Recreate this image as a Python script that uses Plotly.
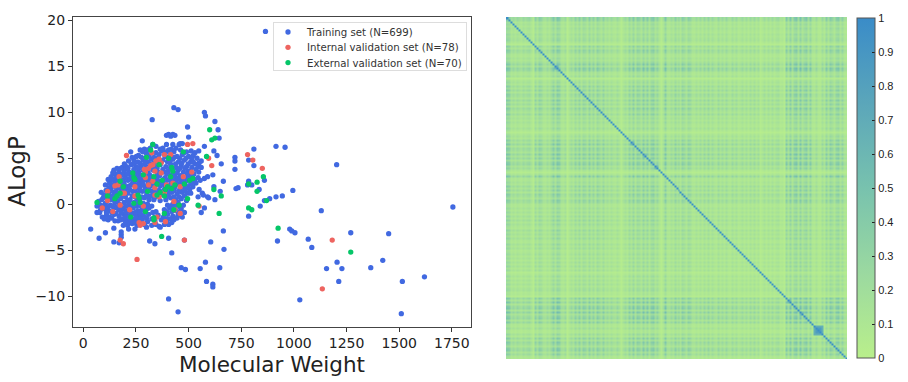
import plotly.graph_objects as go

# ---- Scatter panel: values (dense core is approximate) ----
TRAIN_OUTLIERS = [(865,18.8),(1755,-0.3),(1203,4.3),(915,6.3),(958,6.2),(810,6),(720,5.1),(720,4.7),(720,3.8),(785,4.8),(810,4.2),(860,2.6),(785,2.5),(780,2.1),(800,2.1),(725,1.7),(735,1.8),(835,1.6),(840,-0.2),(860,0.4),(885,0.6),(915,0.8),(945,0.9),(995,1.5),(785,-1.3),(1130,-0.7),(980,-2.7),(990,-2.9),(1005,-3.1),(922,-4),(1068,-3.8),(1085,-4.7),(1270,-3.1),(1450,-3.2),(1205,-6.3),(1155,-7),(1228,-7),(1213,-8.4),(1365,-6.9),(1422,-6.1),(1515,-8.4),(1620,-7.9),(1510,-11.9),(1028,-10.4),
(430,10.5),(450,10.3),(327,9.2),(575,10),(580,9.6),(625,9),(495,8.4),(640,8.1),(500,7.3),(645,7.2),(395,7.5),(405,7.6),(415,7.4),(425,7.6),(435,7.5),(280,6.9),(575,6.3),(460,6.6),(470,6.6),(620,5.8),(635,5.3),(655,4.4),(615,3.2),(590,3),(575,2.8),(665,2.5),(620,1.9),(650,1.4),(590,0.8),(595,0.7),(545,0.8),(625,0.5),(560,-0.9),(575,-0.4),(665,-2.9),(605,-4.1),(668,-4.9),(420,-5.3),(405,-3.7),(480,-3.9),(315,-4),(340,-4.3),(465,-6.9),(485,-7.1),(555,-7),(580,-6.3),(648,-6.9),(585,-8.4),(615,-8.7),(615,-9),(405,-10.3),(450,-11.7),(35,-2.7),(75,-3.7),(105,-3.1),(145,-4.1),(170,-4.2),(180,-3),(180,-3.3),(180,-3.6)]

TRAIN_CORE = [
(330,6.5),(290,6.0),(318,6.1),(378,6.1),(395,6.5),(425,6.5),(440,6.1),(455,6.5),(365,6.0),(345,6.3),
(225,5.7),(282,5.7),(300,5.5),(345,5.6),(372,5.8),(405,5.9),(430,5.7),(462,5.9),(490,5.7),(512,5.8),(530,5.6),(548,5.8),
(262,5.3),(276,5.1),(312,5.3),(335,5.1),(360,5.4),(388,5.2),(412,5.4),(445,5.2),(470,5.4),(500,5.2),(522,5.3),(540,5.0),(560,4.7),
(215,4.7),(240,4.8),(258,4.6),(285,4.8),(305,4.6),(322,4.9),(350,4.6),(378,4.8),(400,4.6),(425,4.9),(452,4.6),(480,4.8),(510,4.6),(530,4.4),(550,4.5),(185,4.0),
(205,4.1),(228,4.3),(250,4.1),(272,4.3),(298,4.1),(318,4.4),(342,4.1),(365,4.3),(392,4.1),(415,4.3),(440,4.0),(465,4.2),(490,4.1),(515,4.0),(535,3.8),(545,4.1),(560,4.0),
(145,3.7),(170,3.5),(195,3.7),(218,3.5),(240,3.8),(262,3.5),(285,3.7),(308,3.5),(332,3.7),(355,3.5),(378,3.8),(402,3.6),(428,3.4),(450,3.7),(475,3.5),(498,3.6),(525,3.3),(150,3.3),(140,3.4),
(155,2.9),(178,3.1),(200,2.9),(225,3.2),(248,3.0),(270,3.2),(292,3.0),(315,3.2),(340,2.9),(362,3.1),(388,2.9),(410,3.2),(435,3.0),(460,3.1),(482,2.9),(505,3.0),(528,2.7),(545,2.9),
(125,2.3),(148,2.5),(170,2.7),(192,2.4),(212,2.6),(235,2.4),(258,2.6),(280,2.4),(302,2.6),(325,2.4),(348,2.7),(372,2.4),(395,2.6),(420,2.4),(442,2.6),(465,2.4),(488,2.5),(510,2.2),(535,2.3),(555,2.6),
(108,1.5),(135,1.9),(158,1.7),(180,2.0),(205,1.8),(228,2.1),(250,1.8),(272,2.0),(295,1.8),(318,2.0),(340,1.7),(365,2.0),(388,1.8),(412,1.7),(435,1.9),(458,1.6),(480,1.8),(505,1.6),(550,1.6),(565,1.2),
(98,1.0),(120,1.2),(145,1.3),(168,1.1),(190,1.4),(212,1.2),(235,1.4),(258,1.2),(280,1.4),(302,1.2),(325,1.4),(350,1.2),(372,1.1),(398,1.2),(420,1.3),(445,1.1),(470,1.3),(495,1.2),(570,1.0),
(88,0.5),(110,0.7),(132,0.5),(155,0.8),(178,0.6),(200,0.8),(222,0.5),(245,0.8),(268,0.5),(290,0.7),(312,0.5),(335,0.5),(365,0.4),(392,0.5),(415,0.7),(440,0.5),(465,0.6),(490,0.4),
(65,-0.2),(82,-0.1),(105,0.1),(128,-0.1),(150,0.2),(172,0.0),(195,0.2),(218,0.0),(242,0.2),(262,-0.1),(285,0.1),(305,0.0),(325,-0.2),(400,-0.1),(425,0.0),(450,0.2),(475,-0.1),
(65,-0.9),(78,-0.9),(100,-0.5),(122,-0.7),(145,-0.4),(168,-0.6),(190,-0.5),(210,-0.7),(235,-0.4),(258,-0.7),(280,-0.6),(302,-0.5),(385,-0.6),(410,-0.4),(440,-0.7),(465,-0.5),(480,-0.9),
(90,-1.4),(110,-1.2),(125,-1.4),(148,-1.1),(170,-1.3),(192,-1.1),(215,-1.3),(240,-1.0),(262,-1.3),(285,-1.2),(310,-1.1),(355,-1.2),(400,-1.1),(425,-1.3),(450,-1.2),(470,-1.4),
(118,-1.7),(150,-1.8),(165,-1.8),(190,-1.6),(210,-1.8),(235,-1.6),(255,-1.6),(280,-1.7),(325,-1.6),(370,-1.7),(410,-1.6),(445,-1.5),
(190,-2.3),(210,-2.3),(232,-2.1),(255,-2.3),(290,-2.2),(325,-2.3),(345,-2.2),(365,-2.5),(385,-2.2),(405,-2.2),(145,-2.6),(215,-2.7),(360,-2.4),
]

TRAIN_CORE_2 = [
(270,5.9),(305,5.9),(392,5.7),(418,6.0),(478,5.6),(252,5.2),(295,5.0),(350,5.0),(402,5.1),(432,5.1),(458,5.0),(488,5.0),(515,5.0),(232,5.1),
(195,4.4),(268,4.5),(292,4.4),(336,4.5),(368,4.5),(412,4.6),(438,4.4),(468,4.5),(498,4.4),(522,4.6),(238,4.4),
(160,3.9),(178,3.9),(212,3.9),(238,3.4),(258,3.9),(278,3.9),(325,3.9),(350,3.9),(385,3.5),(412,3.9),(458,3.9),(482,3.9),(508,3.6),(548,3.5),
(132,3.0),(165,3.3),(188,3.3),(208,3.3),(255,3.4),(298,3.3),(322,3.0),(352,3.3),(398,3.3),(445,3.4),(470,3.0),(495,3.3),(518,3.1),
(118,2.7),(138,2.7),(158,2.4),(182,2.6),(222,2.8),(245,2.7),(268,2.8),(290,2.7),(312,2.8),(335,2.6),(360,2.5),(382,2.7),(408,2.7),(430,2.7),(452,2.8),(476,2.7),(498,2.7),(522,2.4),
(105,2.1),(122,1.8),(146,2.1),(168,2.2),(195,2.1),(218,2.0),(240,2.2),(262,2.2),(285,2.1),(308,2.2),(330,2.1),(355,2.2),(378,2.2),(402,2.1),(425,2.0),(448,2.2),(472,2.1),(495,1.9),(520,1.9),
(85,1.3),(112,1.0),(132,1.5),(155,1.3),(178,1.6),(198,1.6),(220,1.6),(245,1.5),(268,1.6),(292,1.5),(312,1.6),(335,1.2),(360,1.5),(382,1.5),(408,1.4),(432,1.5),(455,1.4),(482,1.5),(510,1.2),
(72,0.3),(95,0.7),(122,0.9),(140,0.9),(162,0.4),(188,0.9),(210,0.4),(232,0.9),(255,0.4),(278,0.8),(300,0.9),(322,0.9),(348,0.8),(405,0.9),(430,0.8),(455,0.8),(480,0.9),
(92,-0.2),(115,-0.3),(138,-0.2),(160,-0.3),(182,-0.3),(205,-0.2),(228,-0.3),(250,-0.2),(272,-0.2),(292,-0.3),(312,-0.4),(415,-0.2),(435,-0.2),(458,-0.3),
(82,-0.6),(110,-0.9),(135,-0.9),(155,-1.0),(180,-0.9),(202,-0.9),(225,-0.9),(248,-0.9),(270,-0.9),(330,-0.9),(345,-0.8),(395,-0.8),(420,-0.8),(452,-0.9),
(100,-1.6),(135,-1.5),(178,-1.7),(200,-1.4),(225,-1.5),(250,-1.4),(272,-1.6),(300,-1.5),(340,-1.4),(380,-1.4),(392,-1.6),(430,-1.7),
(200,-2.0),(225,-1.9),(245,-2.0),(270,-2.0),(305,-1.9),(340,-1.8),(395,-1.9),(420,-2.0),(245,-2.7),(300,-2.5),
]

INTERNAL = [(205,5.3),(495,6.5),(520,6.6),(610,4.2),(595,5),(780,5.4),(805,4.8),(850,3.9),(1182,-3.9),(1135,-9.2),(255,-6),(480,-3.9),(190,-4.3),(175,-3.9),(515,3.5),(550,-0.2),(460,-1),(430,0.3),(435,-0.6),(390,-1.9),(340,-2),(265,-2),(270,-2.3),(285,-2.1),(90,-0.4),(140,-0.8),(115,1.4),(115,0.4),(175,-0.1),(170,3),(165,2.1),(185,1.2),(195,1.2),(245,1.9),(220,-0.6),(285,-0.2),(290,3.8),(295,3.5),(310,3.9),(320,4.2),(330,4.3),(345,4.7),(360,4.9),(370,4.5),(385,5.4),(340,3.6),(370,3.4),(295,2.9),(330,2.5),(310,2.1),(340,1.8),(360,0.8),(395,2.1),(425,2.3),(460,1.9),(385,1.3),(340,1.0),(350,-1.4),(245,0.9),(415,5.4),(325,5.6),(150,2.0),(475,3.0)]

EXTERNAL = [(65,0.2),(115,0.9),(150,0.6),(160,0.9),(175,1.2),(190,1.9),(175,2.5),(235,3.4),(240,2.9),(245,2.7),(240,0.1),(260,1),(265,0.7),(270,0.2),(225,-1.4),(295,-0.8),(300,5.1),(320,5.9),(330,6.5),(335,3),(350,2.2),(360,4.3),(365,1.3),(375,2.6),(385,0.9),(385,-1),(335,-1.5),(335,-1.7),(372,-3.5),(390,1.6),(400,1.9),(405,5),(415,3),(420,4),(425,3.6),(420,1.7),(435,2.1),(455,-0.1),(430,-0.6),(475,5.7),(480,2.2),(495,0.6),(505,2.6),(520,2.8),(585,5.2),(600,8.1),(610,7),(625,7.2),(620,1.6),(655,0.9),(645,-1),(545,-0.1),(785,2.2),(825,2.4),(825,1.4),(855,3),(870,0.4),(785,-0.4),(800,-0.6),(925,-2.6),(1270,-5.2),(285,3.2),(305,1.4),(350,1.0)]

TRAIN = TRAIN_OUTLIERS + TRAIN_CORE + TRAIN_CORE_2
train_mw = [p[0] for p in TRAIN]
train_alogp = [p[1] for p in TRAIN]
internal_mw = [p[0] for p in INTERNAL]
internal_alogp = [p[1] for p in INTERNAL]
external_mw = [p[0] for p in EXTERNAL]
external_alogp = [p[1] for p in EXTERNAL]

train_name = "Training set (N=699)"
internal_name = "Internal validation set (N=78)"
external_name = "External validation set (N=70)"

# ---- Similarity matrix: the real cells cannot be read; this is a coarse visual estimate.
# One hand-estimated band strength per grid cell along the axis, plus hand-estimated hot blocks. ----
BAND = [
.66,.60,.30,.40,.28,.42,.33,.27,.42,.31,
.40,.44,.28,.12,.56,.32,.60,.50,.30,.26,
.40,.28,.44,.68,.38,.74,.64,.32,.28,.42,
.10,.30,.42,.28,.56,.34,.60,.30,.58,.50,
.30,.62,.34,.56,.28,.62,.46,.32,.58,.30,
.42,.28,.42,.30,.26,.42,.28,.12,.30,.42,
.28,.58,.36,.68,.30,.62,.54,.34,.70,.38,
.66,.32,.60,.68,.36,.54,.28,.12,.32,.72,
.30,.28,.42,.30,.58,.34,.56,.28,.60,.48,
.30,.58,.50,.28,.26,.40,.26,.42,.25,.46,
.28,.50,.27,.44,.30,.24,.48,.28,.42,.26,
.46,.28,.24,.44,.27,.42,.23,.28,.40,.24,
.38,.22,.40,.25,.42,.23,.38,.14,.24,.38,
.22,.38,.24,.40,.23,.36,.40,.22,.26,.12,
.68,.34,.72,.30,.64,.74,.34,.76,.36,.58,
.70,.32,.66,.28,.24,.42,.22,.20,.44,.24,
.62,.32,.64,.50,.30,.60,.66,.34,.56,.28,.24]
HOT_BLOCKS = [(154, 159, .68), (155, 158, .85), (24, 26, .62), (62, 64, .58), (68, 70, .50), (74, 76, .58), (141, 143, .55), (147, 149, .55)]
TICKS = [0, .1, .2, .3, .4, .5, .6, .7, .8, .9, 1]
TICK_TEXT = ["0", "0.1", "0.2", "0.3", "0.4", "0.5", "0.6", "0.7", "0.8", "0.9", "1"]

SIZE = len(BAND)
z = [[BAND[i] * BAND[j] for j in range(SIZE)] for i in range(SIZE)]
for a, b, v in HOT_BLOCKS:
    for i in range(a, b):
        for j in range(a, b):
            z[i][j] = max(z[i][j], v)
for i in range(SIZE):
    z[i][i] = 1.0

W, H = 908, 382
def dx(a, b): return [a / W, b / W]
def dy(top, bottom): return [1 - bottom / H, 1 - top / H]

fig = go.Figure()
msize = 5.3
for xs, ys, name, col in [(train_mw, train_alogp, train_name, "#4169E1"),
                          (internal_mw, internal_alogp, internal_name, "#EE6460"),
                          (external_mw, external_alogp, external_name, "#05C668")]:
    fig.add_trace(go.Scatter(x=xs, y=ys, mode="markers", name=name, xaxis="x", yaxis="y",
                             marker=dict(color=col, size=msize, line=dict(width=0))))

fig.add_trace(go.Heatmap(z=z, xaxis="x2", yaxis="y2", zmin=0, zmax=1, showlegend=False, zsmooth="best",
    colorscale=[[0, "#B9EF8B"], [0.25, "#9BD9A0"], [0.5, "#78C2AE"], [0.75, "#5BA6BA"], [1, "#3A8CC8"]],
    colorbar=dict(x=857 / W, xanchor="left", y=1 - 358 / H, yanchor="bottom",
                  len=340 / H, lenmode="fraction", thickness=18, thicknessmode="pixels",
                  tickvals=TICKS, ticktext=TICK_TEXT, ticks="inside", ticklen=3, tickcolor="#222",
                  tickfont=dict(family="Liberation Sans", size=11, color="#222"),
                  outlinecolor="#555", outlinewidth=1, xpad=0, ypad=0)))

axfont = dict(family="DejaVu Sans", size=14, color="#222")
fig.update_layout(
    width=W, height=H, margin=dict(l=0, r=0, t=0, b=0, autoexpand=False), paper_bgcolor="white", plot_bgcolor="white",
    xaxis=dict(domain=dx(73, 471), range=[-49, 1841], tickvals=list(range(0, 1751, 250)), ticks="outside",
               ticklen=4, tickcolor="#333", showline=True, mirror=True, linecolor="#444", linewidth=1.3,
               showgrid=False, zeroline=False, tickfont=axfont, anchor="y",
               title=dict(text="Molecular Weight", font=dict(family="DejaVu Sans", size=21.5, color="#222"), standoff=6)),
    yaxis=dict(domain=dy(16.5, 326.5), range=[-13.3, 20.42], tickvals=[-10, -5, 0, 5, 10, 15, 20], ticks="outside",
               ticklen=4, tickcolor="#333", showline=True, mirror=True, linecolor="#444", linewidth=1.3,
               showgrid=False, zeroline=False, tickfont=axfont, anchor="x", tickformat="d",
               title=dict(text="ALogP", font=dict(family="DejaVu Sans", size=23, color="#222"), standoff=3)),
    xaxis2=dict(domain=dx(506, 847), visible=False, anchor="y2"),
    yaxis2=dict(domain=dy(17, 359), visible=False, anchor="x2", autorange="reversed"),
    legend=dict(x=466 / W, xanchor="right", y=1 - 22 / H, yanchor="top", bgcolor="rgba(255,255,255,0.9)",
                bordercolor="#DDD", borderwidth=1, font=dict(family="DejaVu Sans", size=10.2, color="#333"),
                itemwidth=30, tracegroupgap=0),
)

# Plotly enforces a minimum legend row height; tighten rows to the reference's spacing after drawing.
POST = """
var gd = document.getElementById('{plot_id}');
document.body.style.margin = '0';
document.body.style.overflow = 'hidden';
function tighten() {
  var leg = gd.querySelector('.legend');
  if (!leg) return;
  var rows = leg.querySelectorAll('.traces');
  rows.forEach(function (r, k) { r.setAttribute('transform', 'translate(-6,' + (10 + 15.3 * k) + ')'); });
  leg.querySelectorAll('path.scatterpts').forEach(function (p) { p.setAttribute('transform', 'translate(21,0)'); });
  leg.querySelectorAll('rect.bg').forEach(function (b) { b.setAttribute('height', '48'); b.setAttribute('width', '193'); });
  leg.setAttribute('transform', 'translate(273,22)');
}
tighten();
gd.on('plotly_afterplot', tighten);
setTimeout(tighten, 50);
"""
fig.write_html("out.html", post_script=POST, config={"displayModeBar": False})
